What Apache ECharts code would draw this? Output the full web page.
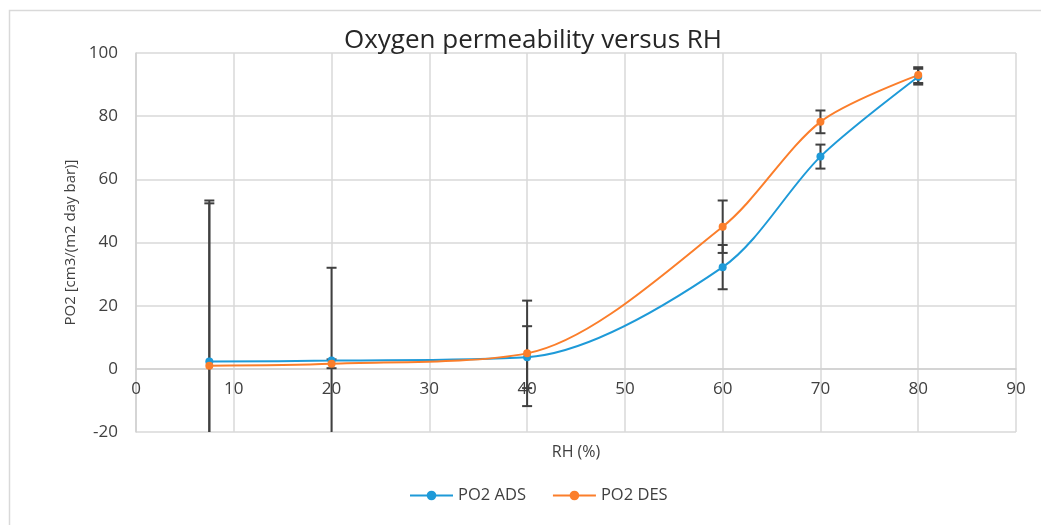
<!DOCTYPE html>
<html>
<head>
<meta charset="utf-8">
<script src="https://cdn.jsdelivr.net/npm/echarts@6/dist/echarts.min.js"></script>
<style>
html, body { margin: 0; padding: 0; background: #fff; }
#board { width: 1041px; height: 525px; }
</style>
</head>
<body>
<div id="board"></div>
<script>
// RH (%) points
let rh = [7.5, 20, 40, 60, 70, 80]
// PO2 values
let adsValues = [2.3, 2.6, 3.7, 32.2, 67.2, 92.5]
let desValues = [1.0, 1.6, 4.9, 45.0, 78.2, 93.0]
// error bar half widths
let adsErr = [51, 29.4, 9.8, 7.0, 3.8, 2.5]
let desErr = [51.4, 1.4, 16.7, 8.3, 3.6, 2.5]
let seriesNames = ['PO2 ADS', 'PO2 DES']
let colors = ['#1e9ad8', '#fb7e2b']

function pairs(xs, ys) {
  return xs.map((x, i) => [x, ys[i]])
}
function errData(xs, ys, es) {
  return xs.map((x, i) => [x, ys[i] - es[i], ys[i] + es[i]])
}

function renderErr(params, api) {
  let x = api.value(0)
  let lo = api.coord([x, api.value(1)])
  let hi = api.coord([x, api.value(2)])
  let cs = params.coordSys
  let top = Math.max(hi[1], cs.y)
  let bottom = Math.min(lo[1], cs.y + cs.height)
  let half = 5
  let style = { stroke: '#404040', lineWidth: 2 }
  let children = [
    { type: 'line', shape: { x1: lo[0], y1: top, x2: lo[0], y2: bottom }, style: style }
  ]
  if (hi[1] >= cs.y) {
    children.push({ type: 'line', shape: { x1: hi[0] - half, y1: hi[1], x2: hi[0] + half, y2: hi[1] }, style: style })
  }
  if (lo[1] <= cs.y + cs.height) {
    children.push({ type: 'line', shape: { x1: lo[0] - half, y1: lo[1], x2: lo[0] + half, y2: lo[1] }, style: style })
  }
  return { type: 'group', children: children }
}

let font = '"Open Sans", "Noto Sans", sans-serif'
let gridTop = 53, gridBottom = 93
// move the x axis up to the y = 0 line (one band of 20 above the bottom)
let zeroOffset = (525 - gridTop - gridBottom) / 6

let myChart = echarts.init(document.getElementById('board'))
myChart.setOption({
  animation: false,
  textStyle: { fontFamily: font },
  graphic: [{
    type: 'rect',
    shape: { x: 9.5, y: 10.5, width: 1100, height: 600 },
    style: { fill: 'none', stroke: '#d9d9d9', lineWidth: 1.5 },
    silent: true
  }],
  title: {
    text: 'Oxygen permeability versus RH',
    left: 528,
    textAlign: 'center',
    top: 23,
    textStyle: { fontFamily: font, fontSize: 26, fontWeight: 'normal', color: '#262626' }
  },
  legend: {
    data: seriesNames,
    bottom: 16,
    left: 404,
    itemWidth: 43,
    itemHeight: 12,
    itemGap: 26,
    textStyle: { fontFamily: font, fontSize: 16.5, color: '#404040' }
  },
  grid: { left: 136, right: 25, top: gridTop, bottom: gridBottom, containLabel: false },
  xAxis: {
    type: 'value',
    min: 0,
    max: 90,
    interval: 10,
    offset: -zeroOffset,
    name: 'RH (%)',
    nameLocation: 'middle',
    nameGap: 76,
    nameTextStyle: { fontFamily: font, fontSize: 16, color: '#404040' },
    axisLine: { onZero: false, lineStyle: { color: '#d0d0d0', width: 1.5 } },
    axisTick: { show: false },
    axisLabel: { fontSize: 17, color: '#404040', margin: 12, fontFamily: font },
    splitLine: { show: true, lineStyle: { color: '#d9d9d9', width: 1.5 } }
  },
  yAxis: {
    type: 'value',
    min: -20,
    max: 100,
    interval: 20,
    name: 'PO2 [cm3/(m2 day bar)]',
    nameLocation: 'middle',
    nameGap: 55,
    nameTextStyle: { fontFamily: font, fontSize: 15, color: '#404040' },
    axisLine: { show: true, onZero: false, lineStyle: { color: '#d0d0d0', width: 1.5 } },
    axisTick: { show: false },
    axisLabel: { fontSize: 17, color: '#404040', margin: 18, fontFamily: font },
    splitLine: { show: true, lineStyle: { color: '#d9d9d9', width: 1.5 } }
  },
  series: [
    {
      type: 'custom',
      renderItem: renderErr,
      data: errData(rh, adsValues, adsErr),
      z: 1,
      silent: true
    },
    {
      type: 'custom',
      renderItem: renderErr,
      data: errData(rh, desValues, desErr),
      z: 1,
      silent: true
    },
    {
      name: seriesNames[0],
      type: 'line',
      smooth: 0.3,
      symbol: 'circle',
      symbolSize: 8,
      z: 3,
      lineStyle: { color: colors[0], width: 2 },
      itemStyle: { color: colors[0] },
      data: pairs(rh, adsValues)
    },
    {
      name: seriesNames[1],
      type: 'line',
      smooth: 0.3,
      symbol: 'circle',
      symbolSize: 8,
      z: 3,
      lineStyle: { color: colors[1], width: 2 },
      itemStyle: { color: colors[1] },
      data: pairs(rh, desValues)
    }
  ]
})
</script>
</body>
</html>
